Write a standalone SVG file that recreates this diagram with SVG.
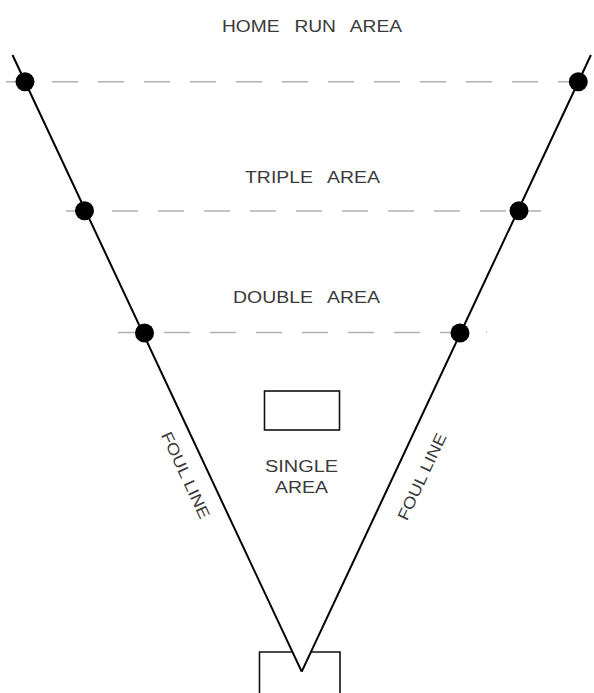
<svg xmlns="http://www.w3.org/2000/svg" width="594" height="693" viewBox="0 0 594 693">
<style>
.dash{stroke:#b0b0b0;stroke-width:1.6;stroke-dasharray:26 20;fill:none}
.line{stroke:#000;stroke-width:2;fill:none}
.dot{fill:#000}
.box{stroke:#111;stroke-width:1.6;fill:none}
.lbl{font-family:"Liberation Sans",Arial,sans-serif;font-size:16px;fill:#3a3a3a;text-anchor:middle}
.ws{word-spacing:8px}
</style>
<rect width="594" height="693" fill="#fff"/>
<g id="connectors">
<line class="dash" x1="6" y1="81.7" x2="591" y2="81.7"/>
<line class="dash" x1="66" y1="211" x2="541" y2="211"/>
<line class="dash" x1="118" y1="332.5" x2="487" y2="332.5"/>
<line class="line" x1="12.5" y1="55" x2="301.7" y2="671.7"/>
<line class="line" x1="590.9" y1="55" x2="301.7" y2="671.7"/>
</g>
<g id="dots">
<circle class="dot" cx="25" cy="81.7" r="9.5"/>
<circle class="dot" cx="84.5" cy="210.7" r="9.5"/>
<circle class="dot" cx="144.5" cy="333" r="9.5"/>
<circle class="dot" cx="578.3" cy="81.7" r="9.5"/>
<circle class="dot" cx="519" cy="210.7" r="9.5"/>
<circle class="dot" cx="460" cy="333" r="9.5"/>
</g>
<g id="base">
<rect class="box" x="264.5" y="391" width="75" height="39"/>
</g>
<g id="home">
<path class="box" d="M259.5,700 V652 H292.5 M310.9,652 H340 V700"/>
</g>
<g id="labels">
<text class="lbl ws" x="312" y="32" textLength="180" lengthAdjust="spacingAndGlyphs">HOME RUN AREA</text>
<text class="lbl ws" x="312.5" y="183" textLength="135" lengthAdjust="spacingAndGlyphs">TRIPLE AREA</text>
<text class="lbl ws" x="306.5" y="303" textLength="147" lengthAdjust="spacingAndGlyphs">DOUBLE AREA</text>
<text class="lbl" x="301.5" y="472" textLength="73" lengthAdjust="spacingAndGlyphs">SINGLE</text>
<text class="lbl" x="301.5" y="493" textLength="53" lengthAdjust="spacingAndGlyphs">AREA</text>
<text class="lbl" x="186" y="481" textLength="94" lengthAdjust="spacingAndGlyphs" transform="rotate(64.9 186 475)">FOUL LINE</text>
<text class="lbl" x="421.5" y="482.5" textLength="94" lengthAdjust="spacingAndGlyphs" transform="rotate(-64.9 421.5 476.5)">FOUL LINE</text>
</g>
</svg>
